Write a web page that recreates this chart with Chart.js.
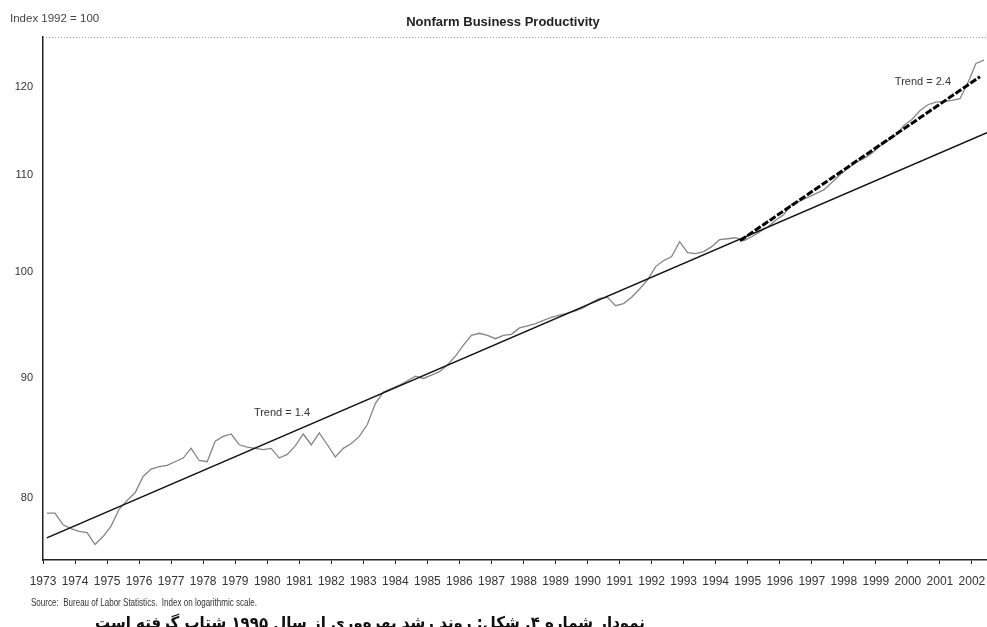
<!DOCTYPE html>
<html><head><meta charset="utf-8">
<script src="https://cdn.jsdelivr.net/npm/chart.js@4/dist/chart.umd.min.js"></script>
<style>html,body{margin:0;padding:0;background:#fff}#wrap{width:987px;height:627px;position:relative}canvas{display:block}</style>
</head><body><div id="wrap"><canvas id="c" width="987" height="627"></canvas></div>
<script>
// ---- data ----
const startYear = 1973; // first quarter 1973Q1, quarterly series
const productivity = [
  78.8, 78.8, 77.9, 77.6,   // 1973
  77.4, 77.3, 76.4, 77.0,   // 1974
  77.8, 79.1, 79.8, 80.4,   // 1975
  81.7, 82.3, 82.5, 82.6,   // 1976
  82.9, 83.2, 84.0, 83.0,   // 1977
  82.9, 84.6, 85.0, 85.2,   // 1978
  84.3, 84.1, 84.0, 83.9,   // 1979
  84.0, 83.2, 83.5, 84.2,   // 1980
  85.2, 84.3, 85.3, 84.3,   // 1981
  83.3, 84.0, 84.4, 85.0,   // 1982
  86.0, 87.8, 88.8, 89.1,   // 1983
  89.4, 89.8, 90.2, 90.0,   // 1984
  90.3, 90.6, 91.2, 92.0,   // 1985
  93.0, 93.9, 94.1, 93.9,   // 1986
  93.6, 93.9, 94.0, 94.6,   // 1987
  94.8, 95.0, 95.3, 95.6,   // 1988
  95.8, 96.0, 96.2, 96.5,   // 1989
  97.0, 97.4, 97.5, 96.7,   // 1990
  96.9, 97.5, 98.3, 99.2,   // 1991
  100.5, 101.1, 101.5, 103.0, // 1992
  101.9, 101.8, 102.0, 102.5, // 1993
  103.2, 103.3, 103.4, 103.1, // 1994
  103.5, 104.0, 104.5, 105.2, // 1995
  105.8, 106.9, 107.2, 107.6, // 1996
  108.0, 108.4, 109.2, 110.0, // 1997
  110.7, 111.4, 111.8, 112.4, // 1998
  113.2, 113.8, 114.4, 115.5, // 1999
  116.2, 117.2, 117.9, 118.2, // 2000
  118.3, 118.4, 118.6, 120.5, // 2001
  122.8, 123.2                // 2002
];
const trend14Years  = [1973.12, 2002.47];
const trend14Values = [76.9, 114.7];
const trend24Years  = [1994.76, 2002.25];
const trend24Values = [103.1, 121.2];
const yearTicks  = [1973,1974,1975,1976,1977,1978,1979,1980,1981,1982,1983,1984,1985,1986,1987,
                    1988,1989,1990,1991,1992,1993,1994,1995,1996,1997,1998,1999,2000,2001,2002];
const valueTicks = [80, 90, 100, 110, 120];
const trendLabels = [
  {text: 'Trend = 1.4', year: 1980.46, value: 87.0},
  {text: 'Trend = 2.4', year: 2000.47, value: 120.6}
];

// ---- build datasets ----
const actualPts = productivity.map((v, i) => ({x: startYear + Math.floor(i / 4) + ((i % 4) + 0.5) / 4, y: v}));
const t14Pts = trend14Years.map((y, i) => ({x: y, y: trend14Values[i]}));
const t24Pts = trend24Years.map((y, i) => ({x: y, y: trend24Values[i]}));

const FONT = "'Liberation Sans', Arial, sans-serif";

function fitText(ctx, text, x, y, targetWidth) {
  const w = ctx.measureText(text).width;
  const sx = targetWidth / w;
  ctx.save();
  ctx.translate(x, y);
  ctx.scale(sx, 1);
  ctx.fillText(text, 0, 0);
  ctx.restore();
}

const decor = {
  id: 'decor',
  beforeDraw(chart) {
    const ctx = chart.ctx;
    ctx.save();
    ctx.fillStyle = '#fff';
    ctx.fillRect(0, 0, chart.width, chart.height);
    ctx.restore();
  },
  afterDraw(chart) {
    const ctx = chart.ctx, a = chart.chartArea;
    const xs = chart.scales.x, ys = chart.scales.y;
    ctx.save();
    // dotted top border
    ctx.strokeStyle = '#9a9a9a';
    ctx.lineWidth = 1;
    ctx.setLineDash([1, 2]);
    ctx.beginPath();
    ctx.moveTo(a.left, a.top + 0.5);
    ctx.lineTo(a.right, a.top + 0.5);
    ctx.stroke();
    ctx.setLineDash([]);

    // axis caption and title
    ctx.fillStyle = '#444';
    ctx.textBaseline = 'middle';
    ctx.textAlign = 'left';
    ctx.font = '11.5px ' + FONT;
    ctx.fillText('Index 1992 = 100', 10, 19);
    ctx.fillStyle = '#222';
    ctx.textAlign = 'center';
    ctx.font = 'bold 13px ' + FONT;
    ctx.fillText('Nonfarm Business Productivity', 503, 22);

    // trend labels
    ctx.font = '11px ' + FONT;
    ctx.fillStyle = '#333';
    trendLabels.forEach(t => {
      ctx.fillText(t.text, xs.getPixelForValue(t.year), ys.getPixelForValue(t.value));
    });

    // source line (condensed, as in the scan)
    ctx.textAlign = 'left';
    ctx.font = '11px ' + FONT;
    ctx.fillStyle = '#333';
    fitText(ctx, 'Source:  Bureau of Labor Statistics.  Index on logarithmic scale.', 31, 603, 226);

    // Persian caption (cut off at the bottom of the scan)
    const fa = 'نمودار شماره ۴. شکل: روند رشد بهره‌وری از سال ۱۹۹۵ شتاب گرفته است';
    ctx.font = 'bold 16px "DejaVu Sans", "Noto Sans", sans-serif';
    ctx.direction = 'rtl';
    ctx.textAlign = 'left';
    ctx.fillStyle = '#111';
    fitText(ctx, fa, 95, 624, 550);
    ctx.restore();
  }
};

new Chart(document.getElementById('c'), {
  type: 'line',
  data: {
    datasets: [
      {data: actualPts, borderColor: '#858585', borderWidth: 1.3, pointRadius: 0, tension: 0, order: 3},
      {data: t14Pts, borderColor: '#111', borderWidth: 1.6, pointRadius: 0, tension: 0, order: 2},
      {data: t24Pts, borderColor: '#000', borderWidth: 3, borderDash: [7, 2], pointRadius: 0, tension: 0, order: 1}
    ]
  },
  options: {
    responsive: false,
    animation: false,
    layout: {padding: {top: 37, left: 0, right: 0, bottom: 0}},
    plugins: {legend: {display: false}, tooltip: {enabled: false}, title: {display: false}},
    scales: {
      x: {
        type: 'linear', min: 1973, max: 2002.47,
        afterBuildTicks: s => { s.ticks = yearTicks.map(v => ({value: v})); },
        afterFit: s => { s.height = 67; s.paddingLeft = 0; s.paddingRight = 0; },
        grid: {display: true, drawOnChartArea: false, drawTicks: true, tickLength: 4, color: '#222', lineWidth: 1},
        border: {display: true, color: '#222', width: 1.5},
        ticks: {autoSkip: false, maxRotation: 0, minRotation: 0, padding: 10,
                font: {family: FONT, size: 12}, color: '#333', callback: v => String(v)}
      },
      y: {
        type: 'logarithmic', min: 75.24, max: 126.05,
        afterBuildTicks: s => { s.ticks = valueTicks.map(v => ({value: v})); },
        afterFit: s => { s.width = 43; s.paddingTop = 0; s.paddingBottom = 0; },
        grid: {display: false, drawTicks: false},
        border: {display: true, color: '#222', width: 1.5},
        ticks: {padding: 10, font: {family: FONT, size: 11}, color: '#333', callback: v => String(v)}
      }
    }
  },
  plugins: [decor]
});
</script>
</body></html>
